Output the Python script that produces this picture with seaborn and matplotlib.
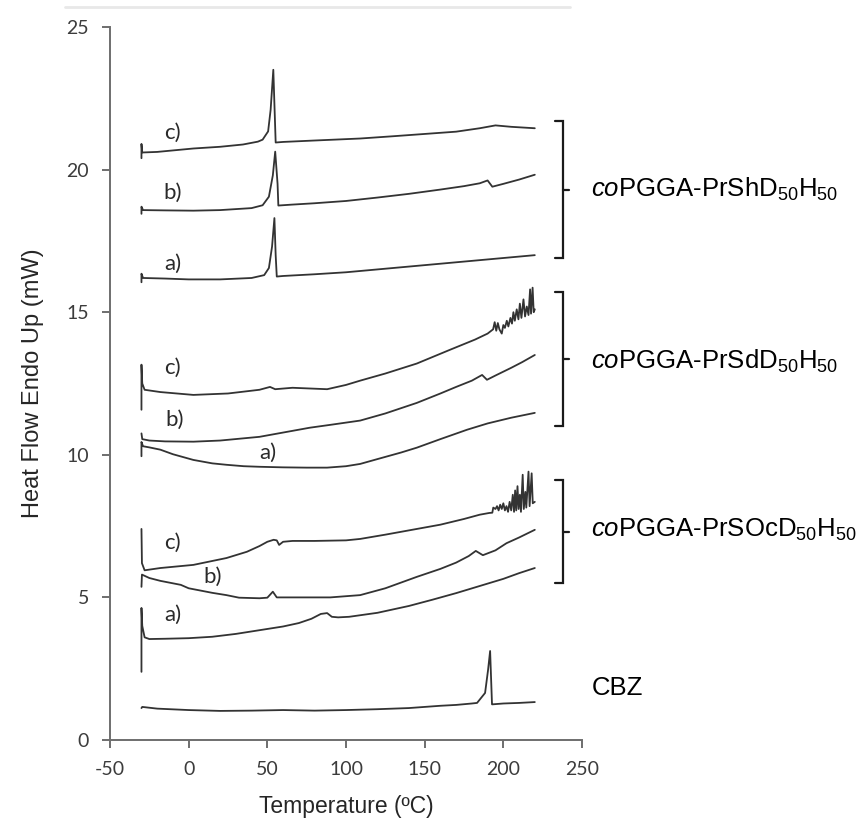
import numpy as np
import pandas as pd
import seaborn as sns
import matplotlib
matplotlib.use('Agg')
import matplotlib.pyplot as plt
from matplotlib.lines import Line2D

sns.set_style('ticks')
plt.rcParams['font.family'] = ['Liberation Sans', 'DejaVu Sans']
plt.rcParams['mathtext.fontset'] = 'custom'
plt.rcParams['mathtext.rm'] = 'Liberation Sans'
plt.rcParams['mathtext.it'] = 'Liberation Sans:italic'
plt.rcParams['axes.unicode_minus'] = False

# ---- data ----
cbz_t = [-30, -29.5, -20, 0, 20, 40, 60, 80, 100, 120, 140, 160, 170, 180, 183.3,
         188.4, 190.3, 191.6, 192.8, 193, 200, 210, 220]
cbz_hf = [1.12, 1.16, 1.1, 1.05, 1.02, 1.03, 1.05, 1.03, 1.05, 1.08, 1.12, 1.2, 1.23,
          1.28, 1.3, 1.65, 2.46, 3.12, 1.25, 1.25, 1.28, 1.3, 1.33]

ocd_a_t = [-30, -30, -29.5, -28, -25, -15, 0, 15, 30, 45, 60, 70, 78, 84, 88, 91, 95,
           102, 120, 140, 155, 170, 185, 200, 210, 220]
ocd_a_hf = [2.39, 4.63, 4.0, 3.6, 3.54, 3.55, 3.57, 3.62, 3.72, 3.85, 3.98, 4.1, 4.25,
            4.42, 4.45, 4.32, 4.3, 4.32, 4.46, 4.7, 4.92, 5.15, 5.4, 5.65, 5.85, 6.03]

ocd_b_t = [-30, -29.7, -25, -18, -5, 0, 15, 24, 32, 45, 50, 53.5, 56, 60, 79, 90, 109,
           125, 145, 160, 170, 178, 182.5, 187, 195, 202, 210, 220]
ocd_b_hf = [5.37, 5.8, 5.68, 5.58, 5.44, 5.32, 5.16, 5.08, 4.99, 4.97, 4.99, 5.2, 5.0,
            5.0, 5.0, 5.0, 5.08, 5.32, 5.72, 6.0, 6.22, 6.45, 6.63, 6.48, 6.65, 6.9,
            7.1, 7.37]

ocd_c_t = [-30, -29.7, -28, -18, 3, 24, 37, 45, 50, 54, 56, 57.5, 60, 66, 80, 100, 109,
           125, 145, 160, 175, 185, 191, 193, 193.6, 195, 196, 197, 198, 199, 200, 201,
           202, 203, 204, 205, 206, 206.8, 207.5, 208.2, 209, 209.7, 210.5, 211.2,
           212.3, 213, 214, 214.6, 216, 216.7, 218, 218.7, 220]
ocd_c_hf = [7.4, 6.2, 5.95, 6.03, 6.14, 6.38, 6.6, 6.8, 6.95, 7.02, 7.0, 6.84, 6.95,
            6.98, 6.98, 7.0, 7.05, 7.2, 7.4, 7.55, 7.75, 7.9, 7.96, 7.97, 8.15, 8.1,
            8.2, 8.05, 8.25, 8.1, 8.3, 8.05, 8.2, 8.0, 8.35, 8.05, 8.6, 8.0, 8.75, 8.05,
            8.9, 8.1, 8.6, 8.0, 9.3, 8.1, 8.7, 8.15, 9.41, 8.2, 9.35, 8.3, 8.35]

sd_a_t = [-30, -30, -29, -25, -18, -10, 3, 15, 24, 35, 45, 60, 75, 88, 100, 109, 120,
          135, 145, 160, 177, 190, 205, 220]
sd_a_hf = [9.95, 10.45, 10.3, 10.26, 10.18, 10.02, 9.82, 9.7, 9.65, 9.6, 9.58, 9.56,
           9.55, 9.55, 9.6, 9.68, 9.85, 10.08, 10.25, 10.55, 10.88, 11.1, 11.3, 11.47]

sd_b_t = [-30, -29.5, -25, -15, 3, 20, 45, 77, 90, 109, 125, 145, 160, 170, 180, 186.5,
          189.6, 195, 205, 212, 220]
sd_b_hf = [10.75, 10.55, 10.5, 10.47, 10.46, 10.5, 10.63, 10.95, 11.05, 11.2, 11.45,
           11.82, 12.15, 12.38, 12.6, 12.8, 12.63, 12.78, 13.05, 13.25, 13.5]

sd_c_t = [-30, -30, -29.5, -28, -18, 3, 25, 45, 51.7, 55, 66, 88, 100, 109, 125, 145,
          166, 182, 190, 193.5, 194.5, 195.5, 196.5, 197.5, 199, 200, 201, 202.2,
          203.2, 204.5, 205.5, 206.4, 207.3, 208.5, 209.6, 210.5, 211.5, 212.8, 213.8,
          214.9, 216, 217, 217.6, 218.6, 219.3, 220]
sd_c_hf = [11.58, 13.16, 12.5, 12.28, 12.2, 12.1, 12.15, 12.28, 12.38, 12.3, 12.35,
           12.3, 12.45, 12.6, 12.85, 13.2, 13.68, 14.04, 14.25, 14.4, 14.65, 14.35,
           14.62, 14.4, 14.25, 14.55, 14.45, 14.7, 14.5, 14.8, 14.6, 15.0, 14.7, 15.1,
           14.75, 15.3, 14.8, 15.45, 14.85, 15.2, 14.9, 15.8, 14.95, 15.86, 15.0, 15.1]

sh_a_t = [-30, -30, -29, -15, 0, 20, 40, 48, 51, 53, 54.5, 55.3, 56, 60, 80, 100, 120,
          140, 160, 180, 200, 210, 220]
sh_a_hf = [16.05, 16.35, 16.2, 16.18, 16.15, 16.15, 16.2, 16.3, 16.55, 17.3, 18.3, 17.0,
           16.25, 16.27, 16.33, 16.4, 16.5, 16.6, 16.7, 16.8, 16.9, 16.95, 17.0]

sh_b_t = [-30, -30, -29, -15, 3, 20, 40, 47, 51, 53.5, 55, 56.5, 57, 65, 80, 100, 120,
          140, 160, 175, 185, 190, 193, 200, 210, 220]
sh_b_hf = [18.45, 18.7, 18.58, 18.57, 18.56, 18.58, 18.65, 18.75, 19.05, 19.8, 20.63,
           19.5, 18.74, 18.77, 18.82, 18.9, 19.02, 19.15, 19.3, 19.42, 19.52, 19.62,
           19.4, 19.5, 19.65, 19.82]

sh_c_t = [-30, -30, -29.5, -20, 3, 20, 34.5, 44, 47, 50.5, 52.1, 53.8, 54.5, 55.3, 60,
          80, 109, 130, 150, 170, 185, 195, 205, 220]
sh_c_hf = [20.4, 20.9, 20.6, 20.62, 20.74, 20.8, 20.88, 20.98, 21.05, 21.34, 22.1, 23.5,
           22.3, 20.95, 20.97, 21.02, 21.09, 21.17, 21.25, 21.33, 21.45, 21.55, 21.5,
           21.45]

curves = [(cbz_t, cbz_hf), (ocd_a_t, ocd_a_hf), (ocd_b_t, ocd_b_hf), (ocd_c_t, ocd_c_hf),
          (sd_a_t, sd_a_hf), (sd_b_t, sd_b_hf), (sd_c_t, sd_c_hf),
          (sh_a_t, sh_a_hf), (sh_b_t, sh_b_hf), (sh_c_t, sh_c_hf)]

# curve letters: (text, temperature, heat flow)
letters = [('c)', -10.5, 21.3), ('b)', -10, 19.2), ('a)', -10, 16.7),
           ('c)', -10, 13.05), ('b)', -9, 11.23), ('a)', 50, 10.07),
           ('c)', -10, 6.9), ('b)', 15.5, 5.72), ('a)', -10, 4.39)]

groups = [r'$\mathit{co}$PGGA-PrShD$_{50}$H$_{50}$',
          r'$\mathit{co}$PGGA-PrSdD$_{50}$H$_{50}$',
          r'$\mathit{co}$PGGA-PrSOcD$_{50}$H$_{50}$',
          'CBZ']
group_y = [19.3, 13.26, 7.37, 1.82]
bracket_spans = [(16.9, 21.7), (11.0, 15.72), (5.5, 9.12)]

line_col = '#333333'
axis_col = '#6e6e6e'
tick_col = '#3c3c3c'

fig = plt.figure(figsize=(8.66, 8.31), dpi=100)
ax = fig.add_axes([110 / 866, 1 - 740 / 831, 472 / 866, 713 / 831])

for t, hf in curves:
    df = pd.DataFrame({'t': t, 'hf': hf})
    sns.lineplot(data=df, x='t', y='hf', ax=ax, sort=False, estimator=None,
                 color=line_col, linewidth=1.3)

for txt, tx, ty in letters:
    ax.text(tx, ty, txt, fontsize=16, family=['Lato', 'DejaVu Sans'],
            color='#2a2a2a', ha='center', va='center')

for lo, hi in bracket_spans:
    mid = (lo + hi) / 2
    ax.plot([233, 238, 238, 233], [hi, hi, lo, lo], color='#1a1a1a', lw=1.6,
            clip_on=False, solid_joinstyle='miter')
    ax.plot([238, 242], [mid, mid], color='#1a1a1a', lw=1.6, clip_on=False)

for g, gy in zip(groups, group_y):
    ax.text(256, gy, g, fontsize=18.5, color='black', ha='left', va='center')

ax.set_xlim(-50, 250)
ax.set_ylim(0, 25)
ax.set_xticks(np.arange(-50, 251, 50))
ax.set_yticks(np.arange(0, 26, 5))
ax.set_xlabel('Temperature (ºC)', fontsize=16.5, labelpad=12)
ax.set_ylabel('Heat Flow Endo Up (mW)', fontsize=17, labelpad=16)

sns.despine(ax=ax)
for s in ['left', 'bottom']:
    ax.spines[s].set_color(axis_col)
    ax.spines[s].set_linewidth(1.4)
ax.tick_params(axis='both', colors=axis_col, width=1.4, length=6,
               labelsize=14, labelcolor=tick_col, pad=9)
for lab in ax.get_xticklabels() + ax.get_yticklabels():
    lab.set_family(['Lato', 'DejaVu Sans'])

fig.add_artist(Line2D([65 / 866, 570 / 866], [1 - 7 / 831, 1 - 7 / 831],
                      color='#e8e8e8', lw=2))

fig.savefig('out.png', dpi=100)
